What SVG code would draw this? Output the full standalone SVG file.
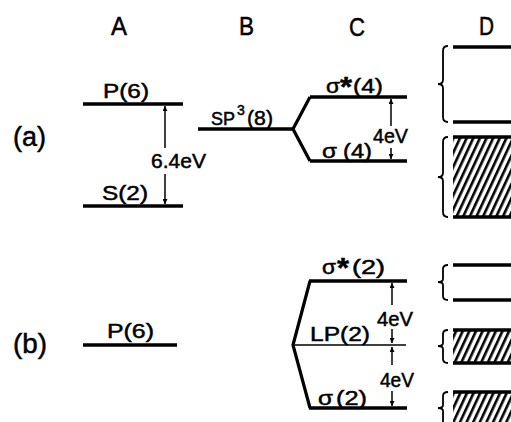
<svg xmlns="http://www.w3.org/2000/svg" width="511" height="422" viewBox="0 0 511 422">
  <style>
    text { font-family: "Liberation Sans", Arial, sans-serif; fill: #000; stroke: #000; stroke-width: 0.5; }
    .head { font-size: 26px; }
    .case { font-size: 27px; }
    .lbl { font-size: 21px; }
    .sup { font-size: 14px; }
    .star { font-size: 28px; font-weight: bold; }
    .level { stroke: #000; stroke-width: 3.5; fill: none; stroke-linecap: butt; }
    .thin { stroke: #000; stroke-width: 1.6; fill: none; }
    .branch { stroke: #000; stroke-width: 3.2; fill: none; stroke-linejoin: miter; }
    .arr { stroke: #000; stroke-width: 1.5; fill: none; marker-end: url(#tip); }
    .brace { stroke: #000; stroke-width: 1.8; fill: none; }
    .hatch { fill: url(#diag); }
  </style>
  <defs>
    <marker id="tip" viewBox="0 0 10 10" refX="10" refY="5" markerUnits="userSpaceOnUse" markerWidth="9" markerHeight="5" orient="auto">
      <path d="M0,0 L10,5 L0,10 z" fill="#000"/>
    </marker>
    <pattern id="diag" patternUnits="userSpaceOnUse" width="6" height="6" patternTransform="rotate(25)">
      <rect x="0" y="0" width="2.6" height="6" fill="#000"/>
    </pattern>
  </defs>

  <!-- column headings -->
  <g id="headings">
    <text class="head" x="111" y="35" textLength="16" lengthAdjust="spacingAndGlyphs">A</text>
    <text class="head" x="239" y="35" textLength="15" lengthAdjust="spacingAndGlyphs">B</text>
    <text class="head" x="349" y="36" textLength="16" lengthAdjust="spacingAndGlyphs">C</text>
    <text class="head" x="479" y="35" textLength="15" lengthAdjust="spacingAndGlyphs">D</text>
  </g>

  <!-- case labels -->
  <g id="case-a">
    <text class="case" x="13" y="146" textLength="33" lengthAdjust="spacingAndGlyphs">(a)</text>
  </g>
  <g id="case-b">
    <text class="case" x="13" y="353" textLength="34" lengthAdjust="spacingAndGlyphs">(b)</text>
  </g>

  <!-- (a) column A -->
  <g id="a-P">
    <line class="level" x1="83" y1="104" x2="183" y2="104"/>
    <text class="lbl" x="103" y="98" textLength="46" lengthAdjust="spacingAndGlyphs">P(6)</text>
  </g>
  <g id="a-S">
    <line class="level" x1="83" y1="206" x2="183" y2="206"/>
    <text class="lbl" x="102" y="200" textLength="46" lengthAdjust="spacingAndGlyphs">S(2)</text>
  </g>
  <g id="a-gap">
    <text class="lbl" x="151" y="168" textLength="55" lengthAdjust="spacingAndGlyphs">6.4eV</text>
  </g>

  <!-- (a) column B: hybrid level, superscript set as a raised tspan -->
  <g id="a-SP3">
    <line class="level" x1="198" y1="129" x2="294" y2="129"/>
    <text x="211" y="125"><tspan font-size="18">SP</tspan><tspan class="sup" x="237" y="115">3</tspan><tspan class="lbl" x="247" y="125" textLength="26" lengthAdjust="spacingAndGlyphs">(8)</tspan></text>
  </g>

  <!-- (a) column C -->
  <g id="a-sigma-star">
    <line class="level" x1="310" y1="97" x2="407" y2="97"/>
    <text class="lbl" x="326" y="93" textLength="14" lengthAdjust="spacingAndGlyphs">σ</text>
    <text class="star" x="340" y="96" textLength="12" lengthAdjust="spacingAndGlyphs">*</text>
    <text class="lbl" x="353" y="93" textLength="30" lengthAdjust="spacingAndGlyphs">(4)</text>
  </g>
  <g id="a-sigma">
    <line class="level" x1="310" y1="161" x2="407" y2="161"/>
    <text class="lbl" x="322" y="158" textLength="15" lengthAdjust="spacingAndGlyphs">σ</text>
    <text class="lbl" x="343" y="158" textLength="29" lengthAdjust="spacingAndGlyphs">(4)</text>
  </g>
  <g id="a-split">
    <text class="lbl" x="373" y="143" textLength="35" lengthAdjust="spacingAndGlyphs">4eV</text>
  </g>

  <!-- (a) column D -->
  <g id="a-band-empty">
    <line class="level" x1="453" y1="47" x2="511" y2="47"/>
    <line class="level" x1="453" y1="122" x2="511" y2="122"/>
    <path class="brace" d="M448,46 Q443,46 443,51 L443,80 Q443,84 438,84 Q443,84 443,88 L443,117 Q443,122 448,122"/>
  </g>
  <g id="a-band-filled">
    <rect class="hatch" x="453" y="137" width="58" height="80"/>
    <line class="level" x1="453" y1="137" x2="511" y2="137"/>
    <line class="level" x1="453" y1="217" x2="511" y2="217"/>
    <path class="brace" d="M448,137 Q443,137 443,142 L443,173 Q443,177 438,177 Q443,177 443,181 L443,212 Q443,217 448,217"/>
  </g>

  <!-- (b) column A -->
  <g id="b-P">
    <line class="level" x1="83" y1="345" x2="177" y2="345"/>
    <text class="lbl" x="107" y="338" textLength="47" lengthAdjust="spacingAndGlyphs">P(6)</text>
  </g>

  <!-- (b) column C -->
  <g id="b-sigma-star">
    <line class="level" x1="309" y1="281" x2="407" y2="281"/>
    <text class="lbl" x="322" y="274" textLength="14" lengthAdjust="spacingAndGlyphs">σ</text>
    <text class="star" x="337" y="277" textLength="12" lengthAdjust="spacingAndGlyphs">*</text>
    <text class="lbl" x="352" y="274" textLength="33" lengthAdjust="spacingAndGlyphs">(2)</text>
  </g>
  <g id="b-LP">
    <line class="thin" x1="293" y1="345" x2="406" y2="345"/>
    <text class="lbl" x="310" y="341" textLength="60" lengthAdjust="spacingAndGlyphs">LP(2)</text>
  </g>
  <g id="b-sigma">
    <line class="level" x1="309" y1="408" x2="407" y2="408"/>
    <text class="lbl" x="318" y="405" textLength="15" lengthAdjust="spacingAndGlyphs">σ</text>
    <text class="lbl" x="336" y="405" textLength="31" lengthAdjust="spacingAndGlyphs">(2)</text>
  </g>
  <g id="b-split">
    <text class="lbl" x="377" y="326" textLength="36" lengthAdjust="spacingAndGlyphs">4eV</text>
    <text class="lbl" x="380" y="387" textLength="34" lengthAdjust="spacingAndGlyphs">4eV</text>
  </g>

  <!-- (b) column D -->
  <g id="b-band-empty">
    <line class="level" x1="453" y1="265" x2="511" y2="265"/>
    <line class="level" x1="453" y1="300" x2="511" y2="300"/>
    <path class="brace" d="M448,265 Q443,265 443,269 L443,279 Q443,282 438,282 Q443,282 443,285 L443,296 Q443,300 448,300"/>
  </g>
  <g id="b-band-mid">
    <rect class="hatch" x="453" y="330" width="58" height="33"/>
    <line class="level" x1="453" y1="330" x2="511" y2="330"/>
    <line class="level" x1="453" y1="363" x2="511" y2="363"/>
    <path class="brace" d="M448,330 Q443,330 443,334 L443,343 Q443,346 438,346 Q443,346 443,349 L443,359 Q443,363 448,363"/>
  </g>
  <g id="b-band-low">
    <rect class="hatch" x="453" y="392" width="58" height="30"/>
    <line class="level" x1="453" y1="392" x2="511" y2="392"/>
    <path class="brace" d="M448,392 Q443,392 443,396 L443,405 Q443,408 438,408 Q443,408 443,411 L443,422"/>
  </g>

  <!-- connectors: splitting lines and energy-gap arrows -->
  <g id="connectors">
    <path class="branch" d="M310,97 L293,129 L310,161"/>
    <path class="branch" d="M310,281 L293,345 L310,408"/>
    <line class="arr" x1="165" y1="148" x2="165" y2="106"/>
    <line class="arr" x1="165" y1="174" x2="165" y2="204"/>
    <line class="arr" x1="391" y1="126" x2="391" y2="99"/>
    <line class="arr" x1="391" y1="148" x2="391" y2="159"/>
    <line class="arr" x1="392" y1="305" x2="392" y2="283"/>
    <line class="arr" x1="392" y1="329" x2="392" y2="343"/>
    <line class="arr" x1="392" y1="365" x2="392" y2="347"/>
    <line class="arr" x1="392" y1="391" x2="392" y2="406"/>
  </g>
</svg>
